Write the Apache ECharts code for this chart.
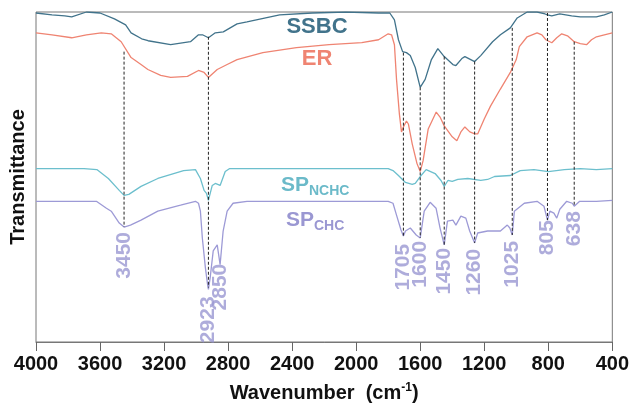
<!DOCTYPE html>
<html>
<head>
<meta charset="utf-8">
<script src="https://cdn.jsdelivr.net/npm/echarts@6/dist/echarts.min.js"></script>
<style>html,body{margin:0;padding:0;background:#fff;}#c{width:632px;height:408px;}</style>
</head>
<body>
<div id="c"></div>
<script>
// Wavenumber ticks
const xTicks = [4000, 3600, 3200, 2800, 2400, 2000, 1600, 1200, 800, 400];

// SSBC spectrum (offset transmittance, a.u.)
const ssbcWn = [4000,3900,3820,3777,3685,3600,3510,3440,3406,3340,3300,3159,3035,2985,2960,2923,2880,2830,2744,2682,2478,2274,2064,1860,1790,1761,1736,1710,1686,1662,1631,1600,1569,1530,1490,1450,1396,1377,1340,1321,1260,1222,1148,1099,1037,1025,994,932,870,820,805,778,728,654,600,500,450,400];
const ssbcT  = [33.4,33.2,33.1,33.0,33.5,33.4,32.8,32.2,31.4,30.8,30.6,30.2,30.5,31.2,31.2,30.9,31.4,31.5,32.3,32.5,33.2,33.4,33.5,33.4,33.4,32.7,30.7,29.5,29.4,29.1,27.9,25.9,26.7,28.7,29.8,29.0,28.2,28.1,28.8,29.0,28.5,29.1,30.5,31.2,31.9,31.9,32.9,33.5,33.5,33.3,33.2,33.1,33.3,33.1,33.0,33.0,33.2,33.5];

// ER spectrum
const erWn = [4000,3900,3777,3685,3592,3530,3468,3406,3344,3301,3221,3159,3054,2985,2950,2923,2868,2806,2744,2583,2373,2169,1965,1860,1800,1779,1761,1748,1730,1717,1705,1686,1674,1650,1620,1600,1582,1550,1500,1476,1450,1400,1371,1346,1321,1290,1260,1241,1200,1161,1100,1037,1000,981,932,870,840,815,778,747,716,680,638,600,561,530,499,450,400];
const erT  = [31.4,31.2,30.9,31.2,31.4,31.3,30.5,28.9,28.2,27.7,27.1,26.9,27.0,27.6,27.4,26.9,27.7,28.2,28.7,29.4,29.9,30.2,30.4,30.7,31.3,31.2,30.2,26.7,23.2,21.4,21.9,22.5,22.2,20.2,18.2,17.4,18.5,21.7,23.4,22.9,22.0,20.9,20.5,21.4,21.9,21.4,21.2,21.2,22.7,24.0,25.7,27.4,28.7,30.0,31.0,31.4,31.2,30.7,30.4,30.9,31.3,31.1,30.5,30.3,30.2,30.7,31.0,31.2,31.4];

// SP_NCHC spectrum
const nchcWn = [4000,3700,3620,3548,3480,3450,3420,3344,3239,3078,3004,2973,2950,2935,2923,2899,2880,2850,2818,2790,1800,1770,1736,1692,1650,1631,1600,1563,1507,1470,1450,1427,1400,1365,1303,1222,1179,1136,1037,975,889,800,700,600,500,400];
const nchcT  = [17.7,17.7,17.6,16.7,15.5,15.0,15.1,15.9,16.7,17.5,17.6,16.7,15.5,15.2,14.5,16.0,16.2,16.0,17.4,17.7,17.7,17.5,17.0,16.3,16.1,16.2,16.9,17.6,17.2,16.5,15.9,16.5,16.4,16.6,16.7,16.5,16.6,16.9,17.0,17.5,17.6,17.4,17.6,17.7,17.6,17.7];

// SP_CHC spectrum
const chcWn = [4000,3623,3560,3530,3480,3450,3410,3344,3239,3097,3004,2985,2973,2961,2942,2930,2923,2912,2893,2868,2850,2831,2806,2769,2682,1800,1770,1748,1720,1705,1692,1662,1625,1600,1575,1538,1501,1476,1450,1430,1396,1377,1346,1315,1291,1260,1241,1179,1099,1056,1040,1025,1012,950,870,827,805,790,765,747,728,685,650,638,604,500,400];
const chcT  = [14.4,14.4,13.7,13.4,12.2,11.8,12.0,12.5,13.4,14.0,14.4,14.2,13.4,10.7,7.7,6.2,5.5,6.7,9.4,10.0,8.0,11.4,13.4,14.2,14.4,14.4,14.2,13.0,11.5,10.9,11.4,11.7,11.0,10.7,13.4,14.3,13.7,11.7,10.0,12.4,12.5,12.0,12.9,12.7,11.4,10.2,11.2,11.4,11.4,12.0,11.7,11.0,13.4,14.2,14.4,13.9,12.5,13.4,13.2,12.7,13.6,14.4,14.2,13.9,14.4,14.4,14.5];

// Drop lines for assigned bands
const bandWn  = [3450, 2923, 1705, 1600, 1450, 1260, 1025, 805, 638];
const bandTop = [29.5, 31.0, 29.4, 25.9, 29.0, 28.5, 31.9, 33.4, 30.5];
const bandBot = [11.8, 5.7, 10.9, 10.7, 10.0, 10.2, 11.0, 12.5, 13.9];

// Band labels
const labelWn = [3450, 2923, 2850, 1705, 1600, 1450, 1260, 1025, 805, 638];
const labelT  = [11.3, 4.8, 8.1, 10.1, 10.4, 9.7, 9.6, 10.4, 12.5, 13.4];

const zip = (a, b) => a.map((v, i) => [v, b[i]]);

const C_SSBC = '#41738b', C_ER = '#ef8472', C_NCHC = '#6cbfcd', C_CHC = '#9d9ad6', C_LAB = '#9a97d2';
const FONT = '"Liberation Sans", Arial, sans-serif';

const series = [];
function spec(name, wn, t, color) {
  series.push({
    name, type: 'line', data: zip(wn, t), showSymbol: false, symbol: 'none',
    lineStyle: { color, width: 1.3 }, z: 2, silent: true
  });
}
spec('SSBC', ssbcWn, ssbcT, C_SSBC);
spec('ER', erWn, erT, C_ER);
spec('SP_NCHC', nchcWn, nchcT, C_NCHC);
spec('SP_CHC', chcWn, chcT, C_CHC);

bandWn.forEach((w, i) => {
  series.push({
    type: 'line', data: [[w, bandTop[i]], [w, bandBot[i]]], showSymbol: false, symbol: 'none',
    lineStyle: { color: '#222', width: 1, type: [3, 2] }, z: 3, silent: true
  });
});

series.push({
  type: 'scatter', symbolSize: 0, z: 4, silent: true,
  data: labelWn.map((w, i) => ({ value: [w, labelT[i]], name: String(w) })),
  label: {
    show: true, position: 'inside', rotate: 90, align: 'right', verticalAlign: 'middle',
    formatter: p => p.name, color: C_LAB, fontSize: 21, fontWeight: 'bold', fontFamily: FONT
  }
});

const chart = echarts.init(document.getElementById('c'), null, { renderer: 'canvas' });
chart.setOption({
  animation: false,
  backgroundColor: '#fff',
  grid: { left: 34, right: 16, top: 12, bottom: 62, show: true, borderColor: '#777', borderWidth: 1 },
  xAxis: {
    type: 'value', min: 400, max: 4000, interval: 400, inverse: true,
    axisLine: { show: true, lineStyle: { color: '#777', width: 1 } },
    axisTick: { show: true, length: 9, lineStyle: { color: '#666' } },
    splitLine: { show: false },
    axisLabel: { color: '#111', fontSize: 20, fontWeight: 'bold', margin: 12, fontFamily: FONT,
      formatter: v => (xTicks.indexOf(v) >= 0 ? String(v) : '') },
    name: 'Wavenumber  (cm{sup|-1})', nameLocation: 'middle', nameGap: 40,
    nameTextStyle: { color: '#111', fontSize: 20, fontWeight: 'bold', fontFamily: FONT,
      rich: { sup: { fontSize: 12, fontWeight: 'bold', color: '#111', verticalAlign: 'top', padding: [0, 0, 10, 0], fontFamily: FONT } } }
  },
  yAxis: {
    type: 'value', min: 0.2, max: 33.5,
    axisLine: { show: false }, axisTick: { show: false }, axisLabel: { show: false }, splitLine: { show: false },
    name: 'Transmittance', nameLocation: 'middle', nameGap: 8, nameRotate: 90,
    nameTextStyle: { color: '#111', fontSize: 20, fontWeight: 'bold', fontFamily: FONT }
  },
  graphic: [
    { type: 'text', x: 317, y: 27, z: 10, style: { text: 'SSBC', fill: C_SSBC, font: 'bold 22px ' + FONT, align: 'center', verticalAlign: 'middle' } },
    { type: 'text', x: 317, y: 59, z: 10, style: { text: 'ER', fill: C_ER, font: 'bold 22px ' + FONT, align: 'center', verticalAlign: 'middle' } },
    { type: 'text', x: 281, y: 172, z: 10, style: { text: '{a|SP}{b|NCHC}',
      rich: { a: { fill: '#6bbac9', color: '#6bbac9', font: 'bold 21px ' + FONT },
              b: { fill: '#6bbac9', color: '#6bbac9', font: 'bold 14px ' + FONT, padding: [12, 0, 0, 0] } } } },
    { type: 'text', x: 286, y: 207, z: 10, style: { text: '{a|SP}{b|CHC}',
      rich: { a: { fill: C_LAB, color: C_LAB, font: 'bold 21px ' + FONT },
              b: { fill: C_LAB, color: C_LAB, font: 'bold 14px ' + FONT, padding: [12, 0, 0, 0] } } } }
  ],
  series
});
</script>
</body>
</html>
